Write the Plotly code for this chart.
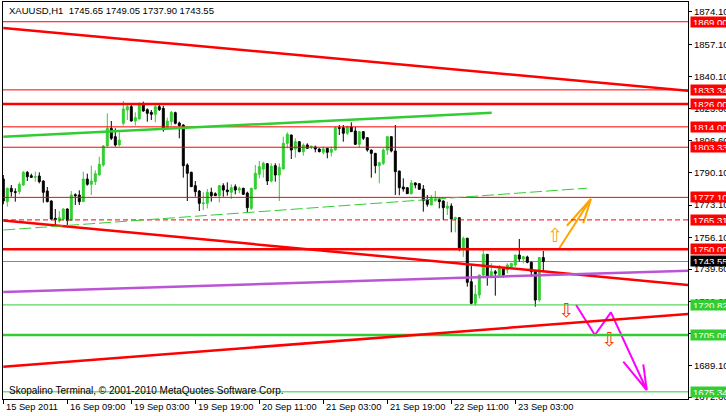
import plotly.graph_objects as go

# ---------------- data ----------------
opens = [1786.71,1774.85,1781.83,1780.08,1780.08,1783.57,1790.20,1788.45,1787.58,1788.28,
         1785.66,1780.43,1775.20,1766.13,1764.73,1765.78,1771.01,1765.08,1778.51,1778.34,
         1774.85,1786.71,1783.92,1785.31,1788.80,1794.04,1803.99,1813.23,1808.87,1804.51,
         1815.84,1822.82,1824.56,1817.06,1818.11,1825.79,1822.99,1821.60,1820.55,1824.56,
         1823.69,1813.58,1816.72,1821.42,1816.02,1814.97,1794.04,1790.20,1783.22,1780.43,
         1773.80,1773.98,1779.73,1779.04,1777.99,1783.22,1780.95,1779.73,1782.70,1780.95,
         1781.83,1779.39,1771.36,1781.48,1789.15,1791.94,1794.73,1785.66,1793.69,1788.80,
         1791.94,1805.38,1809.74,1802.41,1806.25,1801.02,1804.51,1803.46,1803.46,1802.41,
         1800.67,1802.76,1800.67,1801.89,1813.58,1813.58,1810.61,1813.93,1811.84,1804.86,
         1811.49,1808.35,1801.89,1800.15,1793.69,1794.91,1801.89,1808.87,1801.37,1790.90,
         1782.52,1782.17,1779.04,1784.62,1784.27,1781.48,1775.91,1773.11,1775.39,1775.91,
         1775.20,1771.36,1772.58,1765.78,1766.48,1750.09,1755.67,1732.99,1721.65,1726.01,
         1736.47,1747.29,1735.60,1738.22,1736.47,1739.61,1739.09,1740.83,1741.71,1746.94,
         1744.85,1745.90,1743.11,1738.22,1723.39,1745.65]
highs = [1788.80,1782.17,1783.57,1781.83,1784.97,1790.90,1790.90,1789.50,1790.55,1790.20,
         1786.01,1782.52,1775.55,1771.01,1769.97,1771.36,1771.36,1780.43,1779.21,1780.78,
         1790.55,1789.50,1793.69,1791.24,1798.40,1804.51,1821.08,1817.06,1813.23,1811.14,
         1827.53,1825.44,1825.44,1821.60,1826.83,1827.18,1823.69,1822.82,1825.44,1825.44,
         1825.00,1818.81,1822.30,1821.95,1816.72,1815.32,1794.91,1790.55,1785.66,1780.95,
         1779.73,1781.48,1782.17,1779.73,1783.57,1784.44,1784.97,1783.92,1783.92,1782.70,
         1782.17,1780.08,1782.17,1794.04,1796.14,1795.78,1794.91,1794.91,1794.91,1794.91,
         1808.87,1811.14,1809.90,1808.00,1806.40,1805.38,1805.38,1804.16,1804.16,1802.76,
         1803.64,1802.90,1803.64,1813.93,1814.97,1814.97,1814.62,1816.37,1813.93,1811.84,
         1811.84,1808.50,1802.00,1800.30,1795.78,1802.76,1809.00,1809.00,1814.97,1791.00,
         1787.06,1782.30,1786.19,1784.97,1784.44,1783.57,1778.34,1778.34,1780.43,1776.95,
         1775.55,1774.85,1773.98,1767.00,1766.60,1756.54,1756.00,1741.36,1731.24,1736.60,
         1749.56,1747.40,1742.58,1739.09,1741.71,1739.96,1742.58,1742.70,1747.10,1755.32,
         1746.42,1746.59,1743.45,1738.57,1745.90,1749.05]
lows = [1773.46,1772.23,1777.47,1774.85,1778.69,1783.22,1785.66,1787.23,1785.31,1784.44,
        1774.33,1774.50,1765.08,1762.64,1763.86,1765.08,1762.64,1764.73,1773.11,1773.11,
        1774.70,1783.22,1778.34,1783.57,1788.60,1793.16,1803.64,1807.12,1803.64,1803.80,
        1814.62,1817.59,1816.72,1814.62,1818.00,1821.95,1816.72,1817.59,1816.37,1822.30,
        1811.49,1812.71,1814.62,1815.32,1808.00,1787.41,1775.20,1782.52,1777.47,1769.97,
        1770.49,1771.36,1774.85,1777.90,1774.50,1777.47,1777.99,1776.25,1778.69,1779.21,
        1778.34,1769.27,1770.49,1781.30,1787.06,1787.41,1783.57,1784.97,1785.31,1775.20,
        1791.80,1802.76,1797.18,1797.88,1800.67,1798.93,1802.41,1802.41,1800.67,1800.67,
        1799.62,1797.53,1798.40,1801.70,1809.74,1806.25,1809.74,1811.30,1804.51,1803.11,
        1807.12,1801.02,1787.41,1789.67,1784.44,1794.04,1799.28,1800.67,1778.34,1778.20,
        1780.08,1778.90,1778.69,1781.83,1780.95,1769.62,1772.23,1773.00,1774.85,1771.36,
        1765.26,1767.87,1758.81,1758.81,1748.92,1745.95,1730.37,1721.13,1720.43,1724.27,
        1735.60,1730.89,1734.73,1725.66,1735.60,1735.08,1737.35,1740.31,1740.83,1743.45,
        1742.58,1742.58,1735.60,1719.90,1722.52,1737.90]
closes = [1775.20,1781.83,1780.08,1779.73,1783.92,1790.20,1787.93,1787.58,1787.93,1785.31,
          1779.73,1774.85,1765.78,1765.43,1766.48,1771.01,1765.08,1778.34,1777.99,1774.85,
          1786.71,1783.92,1785.66,1789.50,1794.38,1803.99,1813.23,1808.00,1804.51,1807.12,
          1823.34,1824.56,1817.06,1818.81,1825.79,1822.30,1821.08,1820.55,1824.56,1822.99,
          1813.23,1817.06,1821.60,1815.84,1814.62,1793.69,1789.67,1782.70,1780.08,1773.98,
          1774.15,1779.73,1777.99,1777.99,1783.22,1780.95,1780.08,1782.17,1780.95,1781.83,
          1778.69,1771.71,1781.83,1789.67,1793.16,1794.91,1785.66,1793.34,1788.80,1792.76,
          1805.38,1810.09,1801.89,1806.25,1801.02,1804.51,1802.76,1803.81,1802.41,1801.02,
          1802.41,1800.67,1802.24,1813.58,1813.23,1810.61,1814.10,1811.49,1804.86,1811.49,
          1808.00,1801.89,1800.15,1793.69,1795.26,1801.89,1808.87,1801.37,1790.55,1782.17,
          1781.48,1779.04,1784.62,1783.57,1781.30,1775.39,1773.46,1776.95,1776.25,1774.85,
          1771.71,1772.58,1765.78,1766.48,1750.09,1755.67,1732.64,1721.65,1726.36,1736.47,
          1747.29,1735.60,1738.22,1737.35,1739.96,1736.47,1741.71,1742.58,1746.94,1744.85,
          1746.07,1743.11,1738.22,1723.39,1745.65,1743.55]
bar_index = list(range(len(closes)))

time_tick_bars = [0, 16, 32, 48, 64, 80, 96, 112, 128]
time_tick_labels = ["15 Sep 2011", "16 Sep 09:00", "19 Sep 03:00", "19 Sep 19:00",
                    "20 Sep 11:00", "21 Sep 03:00", "21 Sep 19:00", "22 Sep 11:00",
                    "23 Sep 03:00"]
price_ticks = [1874.10, 1857.10, 1840.10, 1823.60, 1806.60, 1790.10, 1773.10,
               1756.10, 1739.60, 1722.60, 1706.10, 1689.10, 1672.60]

# horizontal levels
level_prices = [1869.00, 1833.34, 1826.00, 1814.00, 1803.33, 1777.10, 1765.31,
                1750.00, 1720.82, 1705.06, 1675.34]
level_colors = ["red", "red", "red", "red", "red", "red", "red",
                "red", "green", "green", "green"]
level_widths = [1, 1, 2.5, 1, 1, 1, 1, 2.5, 1, 2.5, 1]
level_dashed = [False, False, False, False, False, False, True,
                False, False, False, False]

# trend lines: (bar0, price0, bar1, price1)
trend_red_upper = [0, 1865.7, 171.2, 1832.9]
trend_red_down = [0, 1765.0, 171.2, 1731.2]
trend_red_up = [0, 1688.5, 171.2, 1716.1]
trend_purple = [0, 1727.6, 171.2, 1738.7]
trend_green_upper = [0, 1808.85, 122.1, 1821.4]
trend_green_dashed = [0, 1760.0, 145.9, 1781.9]

# hand-drawn arrows
orange_bars = [139.0, 146.9, 140.9, None, 146.9, 145.0]
orange_prices = [1750.45, 1776.25, 1762.27, None, 1776.25, 1763.53]
magenta_bars = [143.2, 147.9, 151.9, 160.85, 155.0, None, 160.85, 160.0]
magenta_prices = [1720.78, 1705.08, 1716.96, 1676.30, 1691.1, None, 1676.30, 1689.74]
up_sign = [137.9, 1756.2]
down_signs_bars = [140.7, 151.5]
down_signs_prices = [1716.75, 1701.57]

title_text = "XAUUSD,H1  %.2f %.2f %.2f %.2f" % (opens[-1], highs[-1], lows[-1], closes[-1])
copyright_text = "Skopalino Terminal, © 2001-2010 MetaQuotes Software Corp."

# ---------------- style ----------------
RED = "#FF0000"
GREEN = "#32CD32"
PURPLE = "#BA55D3"
GREY = "#778899"
FONT = "Liberation Sans"
FS = 9.3
W, H = 726, 416
ML, MR, MT, MB = 3, 38, 2, 17
X_RANGE = [-0.075, 171.175]
Y_RANGE = [1671.59, 1879.33]

fig = go.Figure()
fig.add_trace(go.Candlestick(
    x=bar_index, open=opens, high=highs, low=lows, close=closes,
    increasing=dict(line=dict(color=GREEN, width=1), fillcolor=GREEN),
    decreasing=dict(line=dict(color="#000000", width=1), fillcolor="#000000"),
    whiskerwidth=0, showlegend=False, hoverinfo="skip"))

shapes = []
colmap = {"red": RED, "green": GREEN}
for p, c, w, d in zip(level_prices, level_colors, level_widths, level_dashed):
    shapes.append(dict(type="line", xref="paper", yref="y", x0=0, x1=1, y0=p, y1=p,
                       line=dict(color=colmap[c], width=w, dash="5px,3px" if d else "solid")))
shapes.append(dict(type="line", xref="paper", yref="y", x0=0, x1=1, y0=closes[-1], y1=closes[-1],
                   line=dict(color=GREY, width=1), layer="below"))


def tline(t, color, width, dash="solid"):
    return dict(type="line", xref="x", yref="y", x0=t[0], y0=t[1], x1=t[2], y1=t[3],
                line=dict(color=color, width=width, dash=dash))


shapes += [tline(trend_red_upper, RED, 2.5), tline(trend_red_down, RED, 2.5),
           tline(trend_red_up, RED, 2.5), tline(trend_purple, PURPLE, 2.5),
           tline(trend_green_upper, GREEN, 2.5),
           tline(trend_green_dashed, GREEN, 1, "12px,4px")]

fig.add_trace(go.Scatter(x=orange_bars, y=orange_prices, mode="lines",
                         line=dict(color="#FFA500", width=2), hoverinfo="skip", showlegend=False))
fig.add_trace(go.Scatter(x=magenta_bars, y=magenta_prices, mode="lines",
                         line=dict(color="#FF00FF", width=2), hoverinfo="skip", showlegend=False))
fig.add_trace(go.Scatter(x=[up_sign[0]], y=[up_sign[1]], mode="text", text=["⇧"],
                         textfont=dict(color="#FFA500", size=19, family="DejaVu Sans"),
                         hoverinfo="skip", showlegend=False))
fig.add_trace(go.Scatter(x=down_signs_bars, y=down_signs_prices, mode="text", text=["⇩", "⇩"],
                         textfont=dict(color="#FF3300", size=19, family="DejaVu Sans"),
                         hoverinfo="skip", showlegend=False))

ann = []
pw = W - ML - MR
ph = H - MT - MB
lab_x = 1 + 2 / pw
for p, c in zip(level_prices, level_colors):
    ann.append(dict(xref="paper", yref="y", x=lab_x, y=p, xanchor="left", yanchor="middle",
                    text="%.2f" % p, showarrow=False, bgcolor=colmap[c], borderpad=2,
                    width=34, height=6, align="left",
                    font=dict(family=FONT, size=9.6, color="white")))
ann.append(dict(xref="paper", yref="y", x=lab_x, y=closes[-1], xanchor="left", yanchor="middle",
                text="%.2f" % closes[-1], showarrow=False, bgcolor="black", borderpad=2,
                width=34, height=6, align="left",
                font=dict(family=FONT, size=9.6, color="white")))
for b, t in zip(time_tick_bars, time_tick_labels):
    ann.append(dict(xref="x", yref="paper", x=b, y=-8 / ph, xanchor="left", yanchor="middle",
                    xshift=1, text=t, showarrow=False,
                    font=dict(family=FONT, size=FS, color="black")))
ann.append(dict(xref="paper", yref="paper", x=4 / pw, y=1 - 8.7 / ph, xanchor="left",
                yanchor="middle", text=title_text, showarrow=False,
                font=dict(family=FONT, size=9.5, color="black")))
ann.append(dict(xref="paper", yref="paper", x=4 / pw, y=9 / ph, xanchor="left",
                yanchor="middle", text=copyright_text, showarrow=False,
                font=dict(family=FONT, size=10, color="black")))

fig.update_layout(
    width=W, height=H, margin=dict(l=ML, r=MR, t=MT, b=MB, pad=0, autoexpand=False),
    paper_bgcolor="white", plot_bgcolor="white", showlegend=False,
    shapes=shapes, annotations=ann,
    xaxis=dict(range=X_RANGE, rangeslider=dict(visible=False), showgrid=False, zeroline=False,
               automargin=False,
               tickmode="array", tickvals=time_tick_bars, showticklabels=False,
               ticks="outside", ticklen=4, tickcolor="black",
               showline=True, mirror=True, linecolor="black", linewidth=1),
    yaxis=dict(range=Y_RANGE, side="right", showgrid=False, zeroline=False,
               automargin=False,
               tickmode="array", tickvals=price_ticks,
               ticktext=["%.2f" % v for v in price_ticks],
               ticks="outside", ticklen=3, tickcolor="black",
               tickfont=dict(family=FONT, size=9.6, color="black"),
               showline=True, mirror=True, linecolor="black", linewidth=1),
)

fig.write_html("out.html", config={"displayModeBar": False},
               post_script="document.body.style.margin='0';document.body.style.overflow='hidden';")
